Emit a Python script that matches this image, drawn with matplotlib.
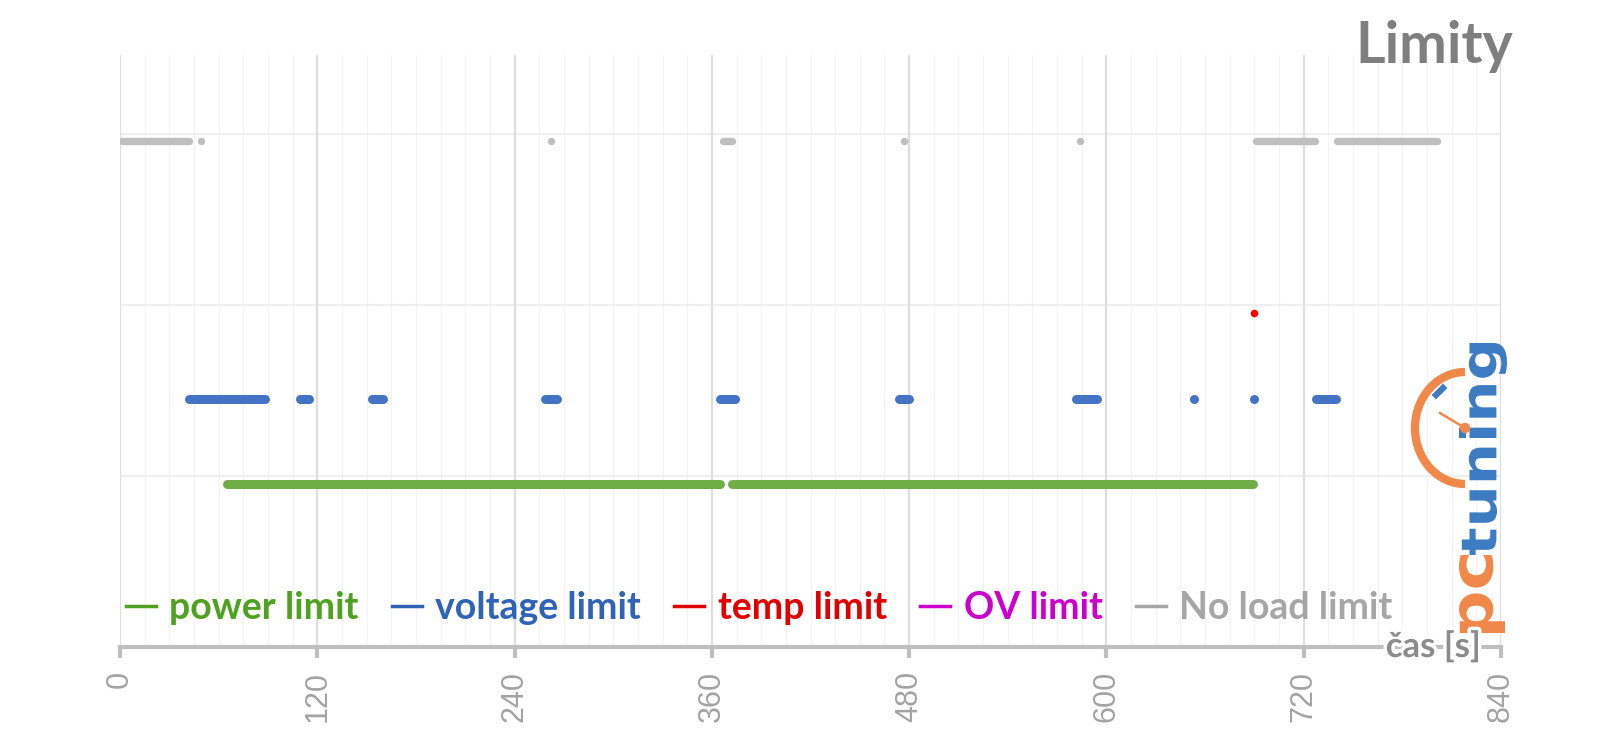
import matplotlib
matplotlib.use('Agg')
import matplotlib.pyplot as plt
import numpy as np
from matplotlib.lines import Line2D
from matplotlib.patches import Arc, Circle, PathPatch
from matplotlib.textpath import TextPath
from matplotlib.font_manager import FontProperties
from matplotlib.transforms import Affine2D, IdentityTransform
import matplotlib.patheffects as pe

# time ranges (s) where each limit was active, and single samples
power_segments = [(65, 155), (155, 260), (260, 365), (372, 476), (476, 584), (584, 689)]
power_points = []
voltage_segments = [(42, 88), (109.5, 115), (153, 160), (258.5, 266), (365, 374),
                    (474, 480), (581.5, 594), (727.5, 739.5)]
voltage_points = [653, 689.5]
temp_segments = []
temp_points = [689.5]
ov_segments = []
ov_points = []
noload_segments = [(1.5, 42), (367, 372), (691, 727), (740.5, 801)]
noload_points = [49, 262, 477, 584]

# level of each series on the (hidden) y axis
levels = {"power": 0.95, "voltage": 1.45, "temp": 1.95, "ov": 2.4, "noload": 2.96}

series = [
    ("power limit", "power", power_segments, power_points, "#70ad47", "#4ea21f", 6.5),
    ("voltage limit", "voltage", voltage_segments, voltage_points, "#4472c4", "#2f63b8", 6.5),
    ("temp limit", "temp", temp_segments, temp_points, "#ff0000", "#e00000", 5.5),
    ("OV limit", "ov", ov_segments, ov_points, "#cc00cc", "#cc00cc", 5.5),
    ("No load limit", "noload", noload_segments, noload_points, "#bfbfbf", "#a6a6a6", 5.3),
]

xticks = [0, 120, 240, 360, 480, 600, 720, 840]

fig = plt.figure(figsize=(16, 7.45), dpi=100)
ax = fig.add_axes([120 / 1600, 98 / 745, 1381 / 1600, 592 / 745])
ax.set_xlim(0, 840)
ax.set_ylim(0, 3.46)

# grid
for x in np.arange(0, 841, 15):
    if x % 120:
        ax.axvline(x, color="#f3f3f3", lw=0.9, zorder=0)
for x in xticks:
    ax.axvline(x, color="#dedede", lw=1.6, zorder=0.5)
for y in [1, 2, 3]:
    ax.axhline(y, color="#efefef", lw=1.5, zorder=0)

for label, key, segs, pts, c, tc, lw in series:
    y = levels[key]
    for s, e in segs:
        ax.plot([s, e], [y, y], color=c, lw=lw, solid_capstyle="round", zorder=3)
    if pts:
        ax.plot(pts, [y] * len(pts), "o", color=c, ms=lw, mec="none", zorder=3)

for sp in ["left", "right", "top"]:
    ax.spines[sp].set_visible(False)
ax.spines["bottom"].set_color("#bfbfbf")
ax.spines["bottom"].set_linewidth(3)
ax.spines["bottom"].set_zorder(4)
ax.set_yticks([])
ax.set_xticks(xticks)
ax.set_xticklabels([str(t) for t in xticks], rotation=90, fontsize=22,
                   family="Liberation Sans", color="#a3a3a3")
ax.tick_params(axis="x", length=8, width=3, color="#bfbfbf", pad=9)

# legend
handles = [Line2D([], [], color=tc, lw=2.5) for _, _, _, _, _, tc, _ in series]
leg = ax.legend(handles, [s[0] for s in series], ncol=5, loc="center left",
                bbox_to_anchor=(0.004, 0.066), frameon=False,
                prop=FontProperties(family="Lato", weight="bold", size=27),
                handlelength=0.8, handletextpad=0.35, columnspacing=0.9,
                borderaxespad=0, borderpad=0)
for t, s in zip(leg.get_texts(), series):
    t.set_color(s[5])

fig.text(1513 / 1600, 682 / 745, "Limity", ha="right", va="baseline",
         family="Lato", weight="bold", fontsize=41, color="#7f7f7f")

fig.text(1481 / 1600, 88 / 745, "čas [s]", ha="right", va="baseline",
         family="Lato", weight="bold", fontsize=25, color="#8c8c8c", zorder=5,
         path_effects=[pe.withStroke(linewidth=5, foreground="white")])

# pctuning logo (display pixel coordinates)
ident = IdentityTransform()


def logo_text(s, x1, y0, length, height, color):
    tp = TextPath((0, 0), s, size=1, prop=FontProperties(family="DejaVu Sans", weight="bold"))
    ext = tp.get_extents()
    tr = (Affine2D().translate(-ext.x0, -ext.y0)
          .scale(length / ext.width, height / ext.height)
          .rotate_deg(90).translate(x1, y0))
    fig.add_artist(PathPatch(tr.transform_path(tp), facecolor=color,
                             edgecolor="none", transform=ident))


logo_text("pc", 1505, 112, 78, 46, "#f0884a")
logo_text("tuning", 1507, 190, 212, 48, "#3d7cc2")
fig.add_artist(Arc((1465, 317), 100, 112, theta1=90, theta2=270, lw=6,
                   color="#f0884a", transform=ident))
fig.add_artist(Line2D([1465, 1440], [317, 332], color="#f0884a", lw=1.8, transform=ident))
fig.add_artist(Circle((1465, 317), 4.5, color="#f0884a", transform=ident))
fig.add_artist(Line2D([1436, 1443], [350, 357], color="#3d7cc2", lw=4.5, transform=ident))

fig.savefig("out.png", dpi=100, facecolor="white")
